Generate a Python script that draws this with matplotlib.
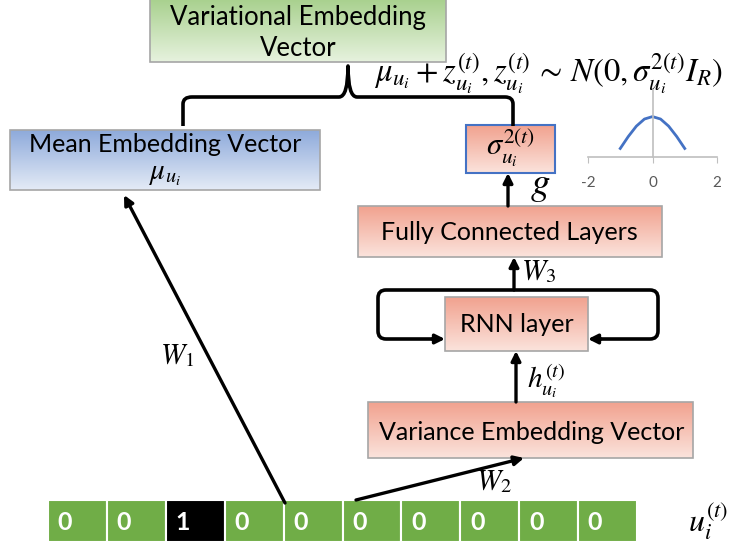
import numpy as np
import matplotlib
matplotlib.use("Agg")
import matplotlib.pyplot as plt
from matplotlib.path import Path
from matplotlib.patches import PathPatch, Rectangle, FancyArrowPatch
from matplotlib.colors import to_rgb

plt.rcParams['font.family'] = ['Lato', 'DejaVu Sans']
plt.rcParams['mathtext.fontset'] = 'stix'

# one-hot input vector
cell_values = [0, 0, 1, 0, 0, 0, 0, 0, 0, 0]

# box labels
top_label = "Variational Embedding\nVector"
mean_label = "Mean Embedding Vector"
fc_label = "Fully Connected Layers"
rnn_label = "RNN layer"
var_label = "Variance Embedding Vector"

# small gaussian inset
gauss_x = [-1.0, -0.75, -0.5, -0.25, 0.0, 0.25, 0.5, 0.75, 1.0]
gauss_y = [0.242, 0.301, 0.352, 0.387, 0.399, 0.387, 0.352, 0.301, 0.242]
gauss_ticks = [-2, 0, 2]

fig = plt.figure(figsize=(7.32, 5.54), dpi=100)
ax = fig.add_axes([0, 0, 1, 1])
ax.set_xlim(0, 732)
ax.set_ylim(554, 0)
ax.axis('off')


def grad_box(x0, y0, x1, y1, top, bottom, edge, lw=1.2):
    t = np.linspace(0, 1, 64)[:, None]
    c = (1 - t) * np.array(to_rgb(top)) + t * np.array(to_rgb(bottom))
    ax.imshow(c[:, None, :], extent=(x0, x1, y1, y0), aspect='auto',
              interpolation='bilinear', zorder=1)
    ax.add_patch(Rectangle((x0, y0), x1 - x0, y1 - y0, fill=False,
                           ec=edge, lw=lw, zorder=2))


def arrow(x0, y0, x1, y1):
    ax.add_patch(FancyArrowPatch((x0, y0), (x1, y1), arrowstyle='-|>',
                                 mutation_scale=14, lw=2.4, color='black',
                                 shrinkA=0, shrinkB=0, zorder=4))


# boxes
grad_box(150, -2, 446, 62, '#a8d08d', '#e6f2de', '#a6a6a6')
ax.text(298, 33, top_label, ha='center', va='center', fontsize=18.5,
        linespacing=1.25, zorder=3)

grad_box(10, 130, 320, 190, '#8eaadb', '#e4ebf6', '#a6a6a6')
ax.text(165, 145, mean_label, ha='center', va='center', fontsize=18, zorder=3)
ax.text(165, 175, r'$\mu_{u_i}$', ha='center', va='center', fontsize=21, zorder=3)

grad_box(466, 125, 555, 173, '#f1a28f', '#fbe3dc', '#4472c4', lw=1.5)
ax.text(510, 148, r'$\sigma_{u_i}^{2(t)}$', ha='center', va='center',
        fontsize=22, zorder=3)

grad_box(358, 206, 662, 257, '#f1a28f', '#fbe3dc', '#a6a6a6')
ax.text(509, 232, fc_label, ha='center', va='center', fontsize=18, zorder=3)

grad_box(445, 297, 588, 351, '#f1a28f', '#fbe3dc', '#a6a6a6')
ax.text(517, 324, rnn_label, ha='center', va='center', fontsize=18, zorder=3)

grad_box(368, 402, 693, 458, '#f1a28f', '#fbe3dc', '#a6a6a6')
ax.text(532, 432, var_label, ha='center', va='center', fontsize=18, zorder=3)

# one-hot cells
cell_x0, cell_w, cell_y0, cell_h = 48, 58.9, 500, 42
for i, v in enumerate(cell_values):
    x = cell_x0 + i * cell_w
    ax.add_patch(Rectangle((x, cell_y0), cell_w, cell_h,
                           fc='black' if v else '#70ad47', ec='white',
                           lw=1.5, zorder=2))
    ax.text(x + 17, cell_y0 + cell_h / 2 + 1, str(v), ha='center', va='center',
            color='white', fontsize=18, fontweight='bold', zorder=3)
ax.text(688, 521, r'$u_i^{(t)}$', ha='left', va='center', fontsize=23)

# brace under the top box
P = Path
verts = [(183, 126), (183, 104), (183, 97), (192, 97), (339, 97), (348, 97),
         (348, 66), (348, 97), (357, 97), (505, 97), (513, 97), (513, 104),
         (513, 126)]
codes = [P.MOVETO, P.LINETO, P.CURVE3, P.CURVE3, P.LINETO, P.CURVE3, P.CURVE3,
         P.CURVE3, P.CURVE3, P.LINETO, P.CURVE3, P.CURVE3, P.LINETO]
ax.add_patch(PathPatch(Path(verts, codes), fill=False, lw=2.6,
                       capstyle='butt', joinstyle='round', zorder=3))

ax.text(374, 74, r'$\mu_{u_i} + z_{u_i}^{(t)}, z_{u_i}^{(t)}\,\sim\,N(0,\sigma_{u_i}^{2(t)}I_R)$',
        ha='left', va='center', fontsize=23.5)

# recurrent loop around the RNN layer
loop_l = Path([(514, 290), (386, 290), (378, 290), (378, 298), (378, 331),
               (378, 339), (386, 339), (438, 339)],
              [P.MOVETO, P.LINETO, P.CURVE3, P.CURVE3, P.LINETO, P.CURVE3,
               P.CURVE3, P.LINETO])
loop_r = Path([(514, 290), (650, 290), (658, 290), (658, 298), (658, 331),
               (658, 339), (650, 339), (596, 339)],
              [P.MOVETO, P.LINETO, P.CURVE3, P.CURVE3, P.LINETO, P.CURVE3,
               P.CURVE3, P.LINETO])
for pth in (loop_l, loop_r):
    ax.add_patch(PathPatch(pth, fill=False, lw=2.6, zorder=3))
arrow(432, 339, 445, 339)
arrow(601, 339, 588, 339)

# arrows
arrow(285, 503, 124, 195)
arrow(356, 500, 524, 458)
arrow(516, 402, 516, 351)
arrow(514, 290, 514, 257)
arrow(508, 206, 508, 173)

ax.text(160, 356, r'$W_1$', ha='left', va='center', fontsize=21)
ax.text(476, 482, r'$W_2$', ha='left', va='center', fontsize=21)
ax.text(521, 272, r'$W_3$', ha='left', va='center', fontsize=21)
ax.text(527, 381, r'$h_{u_i}^{(t)}$', ha='left', va='center', fontsize=21)
ax.text(530, 186, r'$g$', ha='left', va='center', fontsize=28)

# gaussian inset
ins = fig.add_axes([588 / 732, 1 - 157 / 554, 129 / 732, 67 / 554])
ins.plot(gauss_x, gauss_y, color='#4472c4', lw=2)
ins.set_xlim(-2, 2)
ins.set_ylim(0.2, 0.53)
ins.spines['top'].set_visible(False)
ins.spines['right'].set_visible(False)
ins.spines['left'].set_position(('data', 0))
for s in ('left', 'bottom'):
    ins.spines[s].set_color('#bfbfbf')
    ins.spines[s].set_linewidth(1.2)
ins.set_yticks([])
ins.set_xticks(gauss_ticks)
ins.set_xticklabels([str(t) for t in gauss_ticks], color='#595959', fontsize=11)
ins.tick_params(axis='x', length=4, color='#bfbfbf', pad=10)
ins.patch.set_alpha(0)

fig.savefig('out.png', dpi=100)
